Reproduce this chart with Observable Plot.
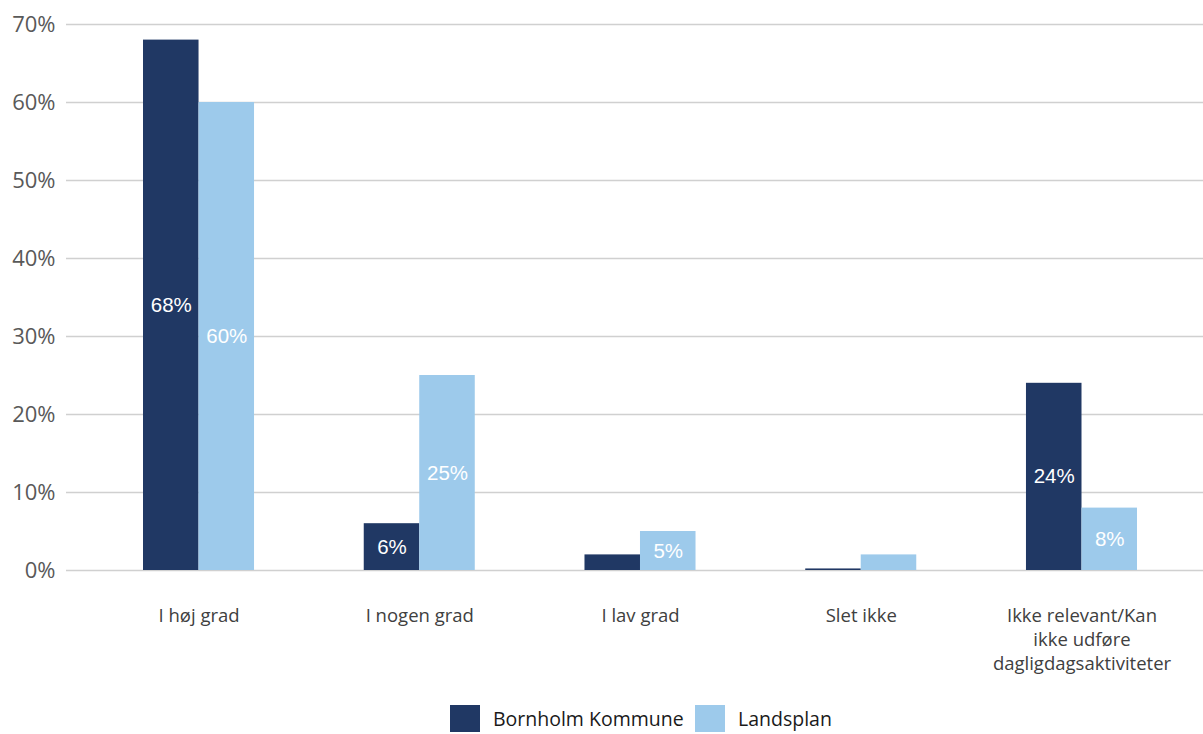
<!DOCTYPE html>
<html>
<head>
<meta charset="utf-8">
<script src="https://cdn.jsdelivr.net/npm/d3@7"></script>
<script src="https://cdn.jsdelivr.net/npm/@observablehq/plot@0.6"></script>
<style>
  body { margin: 0; background: #fff; }
  #chart { position: relative; width: 1203px; }
  #legend { position: relative; height: 34px; font-family: "Open Sans", sans-serif; font-size: 19.5px; color: #1a1a1a; }
  .item { position: absolute; top: 5px; display: flex; align-items: center; height: 27px; }
  .sw { width: 30px; height: 27px; margin-right: 13px; }
</style>
</head>
<body>
<div id="chart"></div>
<div id="legend"></div>
<script>
const categories = ["I høj grad", "I nogen grad", "I lav grad", "Slet ikke", "Ikke relevant/Kan ikke udføre dagligdagsaktiviteter"];
const categoryLabels = ["I høj grad", "I nogen grad", "I lav grad", "Slet ikke", "Ikke relevant/Kan\nikke udføre\ndagligdagsaktiviteter"];
const bornholm = [68, 6, 2, 0.2, 24];
const landsplan = [60, 25, 5, 2, 8];
const seriesNames = ["Bornholm Kommune", "Landsplan"];
const colors = ["#203864", "#9dcaeb"];
const yTicks = [0, 10, 20, 30, 40, 50, 60, 70];

const rowsB = categories.map((c, i) => ({cat: c, value: bornholm[i]}));
const rowsL = categories.map((c, i) => ({cat: c, value: landsplan[i]}));
const labelMap = new Map(categories.map((c, i) => [c, categoryLabels[i]]));

const half = 55.5;
const chart = Plot.plot({
  width: 1203,
  height: 700,
  marginLeft: 66,
  marginRight: 0,
  marginTop: 24,
  marginBottom: 130,
  style: {fontFamily: "'Open Sans', sans-serif", background: "#fff"},
  x: {domain: categories, range: [143, 1137], paddingInner: 0.497, paddingOuter: 0, round: false, axis: null},
  y: {domain: [0, 70], axis: null},
  marks: [
    Plot.ruleY(yTicks, {stroke: "#d0d0d0", strokeWidth: 1.6}),
    Plot.barY(rowsB, {x: "cat", y: "value", fill: colors[0], insetRight: half}),
    Plot.barY(rowsL, {x: "cat", y: "value", fill: colors[1], insetLeft: half}),
    Plot.text(rowsB.filter(d => d.value >= 5), {x: "cat", y: d => d.value / 2, text: d => d.value + "%", dx: -half / 2, fill: "#fff", fontSize: 20.5, fontFamily: "'Liberation Sans', Arial, sans-serif"}),
    Plot.text(rowsL.filter(d => d.value >= 5), {x: "cat", y: d => d.value / 2, text: d => d.value + "%", dx: half / 2, fill: "#fff", fontSize: 20.5, fontFamily: "'Liberation Sans', Arial, sans-serif"}),
    Plot.axisY(yTicks, {tickSize: 0, tickPadding: 11, tickFormat: d => d + "%", fontSize: 22, fill: "#595959", label: null}),
    Plot.axisX({tickSize: 0, tickPadding: 34, tickFormat: d => labelMap.get(d), fontSize: 18.5, lineHeight: 1.3, fill: "#404040", label: null})
  ]
});
document.getElementById("chart").append(chart);

const legend = document.getElementById("legend");
const lx = [450, 695];
seriesNames.forEach((name, i) => {
  const it = document.createElement("div");
  it.className = "item";
  it.style.left = lx[i] + "px";
  it.innerHTML = `<div class="sw" style="background:${colors[i]}"></div><span>${name}</span>`;
  legend.append(it);
});
</script>
</body>
</html>
